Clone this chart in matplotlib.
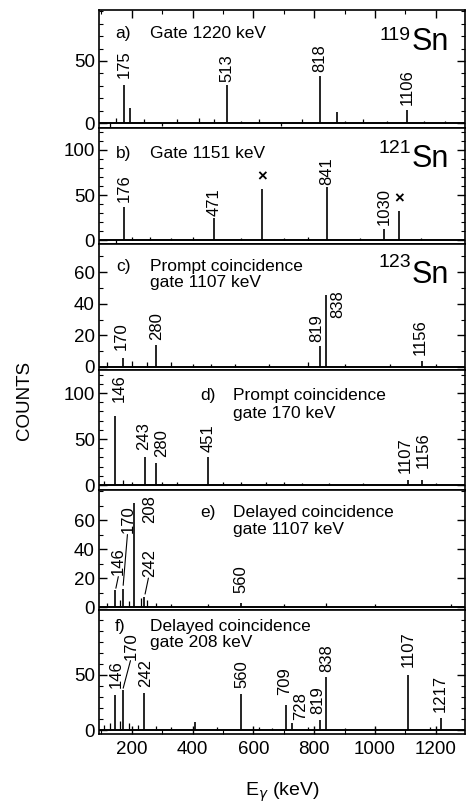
import matplotlib
matplotlib.use("Agg")
import matplotlib.pyplot as plt
from matplotlib.ticker import MultipleLocator, FixedLocator

plt.rcParams['font.family'] = ['Liberation Sans', 'DejaVu Sans']

# ---------------- data ----------------
panel_ids = ["a", "b", "c", "d", "e", "f"]

# main peaks: energy (keV) and counts
a_E = [175, 194, 513, 818, 875, 1106]
a_h = [31, 12, 31, 37.6, 8.6, 10.7]
b_E = [176, 471, 628, 841, 1030, 1079]
b_h = [37, 25, 57, 59, 12, 32]
c_E = [170, 280, 819, 838, 1156]
c_h = [6, 14, 13, 45.5, 4]
d_E = [146, 243, 280, 451, 1107, 1156]
d_h = [75, 31, 23.5, 31, 6, 6]
e_E = [146, 170, 208, 242, 560]
e_h = [11.5, 12.6, 72, 7, 3]
f_E = [146, 170, 242, 408, 560, 709, 728, 819, 838, 1107, 1217]
f_h = [32, 36, 34, 7.6, 33, 23, 6, 9, 48, 50, 10.6]

# small background fluctuations
a_nE = [130, 150, 240, 300, 350, 420, 470, 560, 620, 690, 760, 900, 960, 1040, 1160, 1230]
a_nh = [-3, 4, 3, -2, 3, 4, 3, 2, 3, -2, 3, 2, 3, 2, 2, 2]
b_nE = [150, 200, 260, 330, 400, 560, 700, 780, 950, 1150]
b_nh = [-5, 3, 3, 2, 3, 2, 2, 3, 2, 2]
c_nE = [120, 200, 250, 330, 400, 460, 540, 650, 780, 900, 1050, 1200]
c_nh = [3, 4, 3, 3, 2, 2, 2, 2, 3, 2, 2, 2]
d_nE = [110, 170, 200, 300, 350, 500, 560, 640, 700, 760, 850, 960, 1200]
d_nh = [4, 6, 3, 3, 3, 3, 3, 3, 3, 2, 2, 2, 2]
e_nE = [120, 160, 190, 230, 250, 280, 330, 450, 700, 840, 1000, 1250]
e_nh = [3, 5, 4, 6, 5, 3, 2, 2, 2, 3, 2, 2]
f_nE = [110, 130, 160, 190, 220, 280, 330, 480, 620, 660, 780, 900, 1000, 1180]
f_nh = [5, 6, 8, 6, 5, 4, 3, 3, 3, 2, 3, 2, 2, 3]

# peak labels
a_lab = ["175", "513", "818", "1106"]
b_lab = ["176", "471", "841", "1030"]
c_lab = ["170", "280", "819", "838", "1156"]
d_lab = ["146", "243", "280", "451", "1107", "1156"]
e_lab = ["146", "170", "208", "242", "560"]
f_lab = ["146", "170", "242", "560", "709", "728", "819", "838", "1107", "1217"]

# y tick values
a_yt = [0, 50]
b_yt = [0, 50, 100]
c_yt = [0, 20, 40, 60]
d_yt = [0, 50, 100]
e_yt = [0, 20, 40, 60]
f_yt = [0, 50]

x_ticks = [200, 400, 600, 800, 1000, 1200]

# ---------------- layout / styling ----------------
W, H = 467, 808
fig = plt.figure(figsize=(W / 100, H / 100), dpi=100)

left_px, right_px = 99, 465
bounds_px = [(10, 128), (128, 244), (244, 370), (370, 490), (490, 610), (610, 734)]
ylims = [(-4, 91), (-4.4, 124.4), (-1.9, 77.8), (-5.4, 125), (-2, 80.7), (-3.6, 109)]
xlim = (92.5, 1296)

# label positions (x in keV, bottom of text in counts)
lab_pos = {
    "a": ([175, 513, 818, 1106], [36, 33, 41, 14.5]),
    "b": ([176, 471, 841, 1030], [42, 27, 61, 16.7]),
    "c": ([167, 282, 808, 879, 1150], [10.8, 17, 15.5, 31, 7.6]),
    "d": ([160, 238, 298, 452, 1099, 1159], [90, 38, 30, 36, 13, 18.5]),
    "e": ([156, 188, 260, 260, 560], [22, 51, 58, 21, 10]),
    "f": ([150, 198, 247, 562, 704, 754, 813, 841, 1110, 1215], [38, 64, 39, 38, 32, 9, 15, 53, 57.5, 16.6]),
}
# leader lines: (label x, label y, peak x, peak y)
leaders = {
    "e": [(156, 21, 148, 13), (186, 50, 172, 15), (255, 20, 244, 9)],
    "f": [(196, 63, 172, 38)],
}

titles = {
    "a": ("a)", ["Gate 1220 keV"], (145, 260), [68.5]),
    "b": ("b)", ["Gate 1151 keV"], (148, 260), [91]),
    "c": ("c)", ["Prompt coincidence", "gate 1107 keV"], (148, 260), [61, 50.5]),
    "d": ("d)", ["Prompt coincidence", "gate 170 keV"], (425, 533), [92, 73]),
    "e": ("e)", ["Delayed coincidence", "gate 1107 keV"], (425, 533), [62, 50.5]),
    "f": ("f)", ["Delayed coincidence", "gate 208 keV"], (145, 260), [90, 75]),
}
isotopes = {"a": ("119", 59, 67), "b": ("121", 81, 97), "c": ("123", 53, 63)}

peaks = {"a": (a_E, a_h), "b": (b_E, b_h), "c": (c_E, c_h),
         "d": (d_E, d_h), "e": (e_E, e_h), "f": (f_E, f_h)}
noise = {"a": (a_nE, a_nh), "b": (b_nE, b_nh), "c": (c_nE, c_nh),
         "d": (d_nE, d_nh), "e": (e_nE, e_nh), "f": (f_nE, f_nh)}
labels = {"a": a_lab, "b": b_lab, "c": c_lab, "d": d_lab, "e": e_lab, "f": f_lab}
yticks = {"a": a_yt, "b": b_yt, "c": c_yt, "d": d_yt, "e": e_yt, "f": f_yt}

axes = []
for i, pid in enumerate(panel_ids):
    top, bot = bounds_px[i]
    ax = fig.add_axes([left_px / W, 1 - bot / H, (right_px - left_px) / W, (bot - top) / H])
    axes.append(ax)
    ax.set_xlim(*xlim)
    ax.set_ylim(*ylims[i])

    # baseline + background
    ax.plot(list(xlim), [0, 0], color="black", lw=1.4, zorder=2)
    nE, nh = noise[pid]
    ax.vlines(nE, 0, nh, color="black", lw=0.9)
    # peaks
    E, h = peaks[pid]
    ax.vlines(E, 0, h, color="black", lw=1.2)

    # labels
    lx, ly = lab_pos[pid]
    for s, x, y in zip(labels[pid], lx, ly):
        ax.text(x, y, s, rotation=90, ha="center", va="bottom", fontsize=12)
    for (x1, y1, x2, y2) in leaders.get(pid, []):
        ax.annotate("", xy=(x2, y2), xytext=(x1, y1),
                    arrowprops=dict(arrowstyle="-", lw=0.8, color="black",
                                    shrinkA=0, shrinkB=0))

    # panel titles
    tag, lines, (xt, xl), ys = titles[pid]
    ax.text(xt, ys[0], tag, ha="left", va="baseline", fontsize=12.5)
    for line, y in zip(lines, ys):
        ax.text(xl, y, line, ha="left", va="baseline", fontsize=12.5)

    if pid in isotopes:
        mass, ysn, ysup = isotopes[pid]
        ax.text(1122, ysn, "Sn", ha="left", va="baseline", fontsize=22)
        ax.text(1118, ysup, mass, ha="right", va="baseline", fontsize=14)

    if pid == "b":
        ax.text(628, 70, "×", ha="center", va="center", fontsize=12, fontweight="bold")
        ax.text(1079, 45.5, "×", ha="center", va="center", fontsize=12, fontweight="bold")

    # ticks
    ax.yaxis.set_major_locator(FixedLocator(yticks[pid]))
    ax.yaxis.set_minor_locator(MultipleLocator(10))
    ax.tick_params(axis="y", which="both", direction="in", left=True, right=True,
                   labelsize=13.5, pad=3)
    ax.tick_params(axis="y", which="major", length=6, width=1)
    ax.tick_params(axis="y", which="minor", length=3, width=0.8)
    ax.xaxis.set_major_locator(FixedLocator(x_ticks))
    ax.xaxis.set_minor_locator(MultipleLocator(100))
    show_top = (i == 0)
    show_bot = (i == len(panel_ids) - 1)
    ax.tick_params(axis="x", which="both", direction="in", top=show_top, bottom=show_bot,
                   labelbottom=show_bot, labeltop=False, labelsize=13.5, pad=5)
    ax.tick_params(axis="x", which="major", length=6, width=1)
    ax.tick_params(axis="x", which="minor", length=3, width=0.8)
    for sp in ax.spines.values():
        sp.set_linewidth(1.2)

fig.text(25 / W, 1 - 400 / H, "COUNTS", rotation=90, ha="center", va="center", fontsize=13.5)
fig.text(282 / W, 1 - 792 / H, r"E$_\gamma$ (keV)", ha="center", va="center", fontsize=14)

fig.savefig("out.png", dpi=100)
